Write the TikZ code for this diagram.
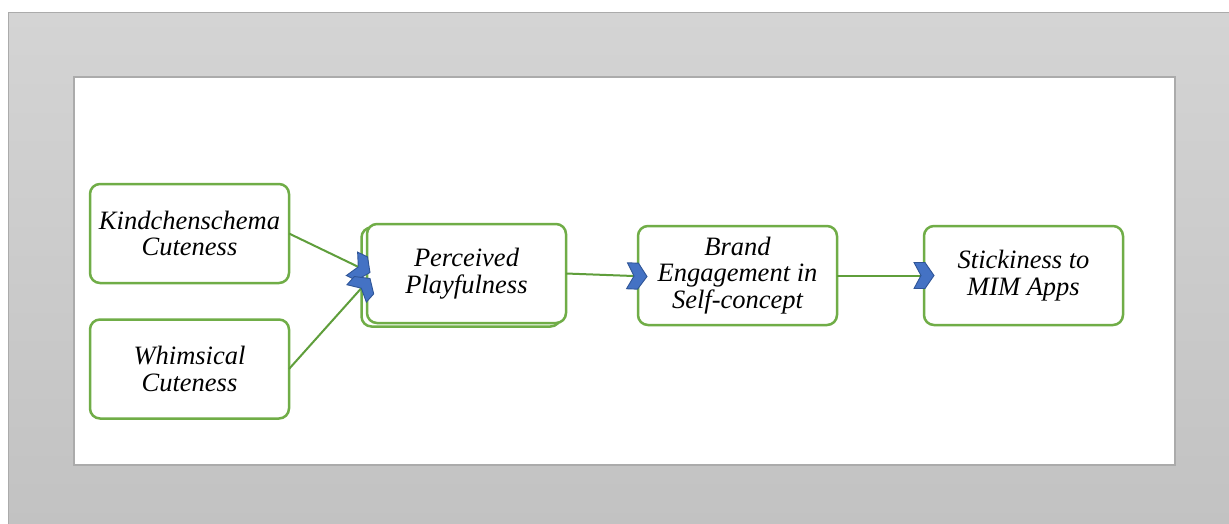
\documentclass[tikz,border=0pt]{standalone}
\usepackage{fontspec}
\setmainfont{Liberation Serif}
\usetikzlibrary{arrows.meta,calc}
\definecolor{boxgreen}{HTML}{70AD47}
\definecolor{linegreen}{HTML}{5F9E3B}
\definecolor{arrowblue}{HTML}{4472C4}
\definecolor{arrowdark}{HTML}{2F5597}
\definecolor{bgtop}{HTML}{D4D4D4}
\definecolor{bgbot}{HTML}{C2C2C2}
\definecolor{framegray}{HTML}{ABABAB}
\pgfdeclarearrow{
  name = Chev,
  parameters = { },
  setup code = {
    \pgfarrowssettipend{0pt}
    \pgfarrowssetlineend{-13pt}
    \pgfarrowssetvisualbackend{-20pt}
    \pgfarrowssetbackend{-20pt}
    \pgfarrowshullpoint{0pt}{0pt}
    \pgfarrowsupperhullpoint{-20pt}{13pt}
  },
  drawing code = {
    \pgfsetlinewidth{0.9pt}
    \pgfsetmiterjoin
    \pgfpathmoveto{\pgfqpoint{0pt}{0pt}}
    \pgfpathlineto{\pgfqpoint{-9pt}{13pt}}
    \pgfpathlineto{\pgfqpoint{-20pt}{13pt}}
    \pgfpathlineto{\pgfqpoint{-13pt}{0pt}}
    \pgfpathlineto{\pgfqpoint{-20pt}{-13pt}}
    \pgfpathlineto{\pgfqpoint{-9pt}{-13pt}}
    \pgfpathclose
    \pgfusepathqfillstroke
  },
  defaults = { }
}
\begin{document}
\begin{tikzpicture}[x=1pt,y=-1pt,
  box/.style={draw=boxgreen, line width=2.5pt, rounded corners=10pt, fill=white,
    minimum width=199pt, minimum height=99pt, inner sep=0pt, outer sep=0pt,
    align=center, font=\itshape\fontsize{26.5}{26.7}\selectfont},
  conn/.style={draw=linegreen, line width=2pt, -{Chev[fill=arrowblue,color=arrowdark]}}
]
\useasboundingbox (0,0) rectangle (1229,523);
\shade[top color=bgtop, bottom color=bgbot, draw=framegray, line width=1pt] (8.5,12) rectangle (1233,527);
\draw[fill=white, draw=framegray, line width=1.5pt] (74,77) rectangle (1175,465);

\node[box] (kc) at (189.5,233.5) {Kindchenschema\\Cuteness};
\node[box] (wc) at (189.5,369) {Whimsical\\Cuteness};
\node[box] (ppb) at (461,277) {};
\node[box] (pp) at (466.5,273.5) {Perceived\\Playfulness};
\node[box] (br) at (737.5,275.5) {Brand\\Engagement in\\Self-concept};
\node[box] (st) at (1023.5,275.5) {Stickiness to\\MIM Apps};

\coordinate (pin1) at ($(pp.west)+(3,-1)$);
\coordinate (pin2) at ($(pp.west)+(3,5)$);
\draw[conn] (kc.east) -- (pin1);
\draw[conn] (wc.east) -- (pin2);
\draw[conn] (pp.east) -- ($(br.west)+(9,1)$);
\draw[conn] (br.east) -- ($(st.west)+(10,0)$);
\end{tikzpicture}
\end{document}
